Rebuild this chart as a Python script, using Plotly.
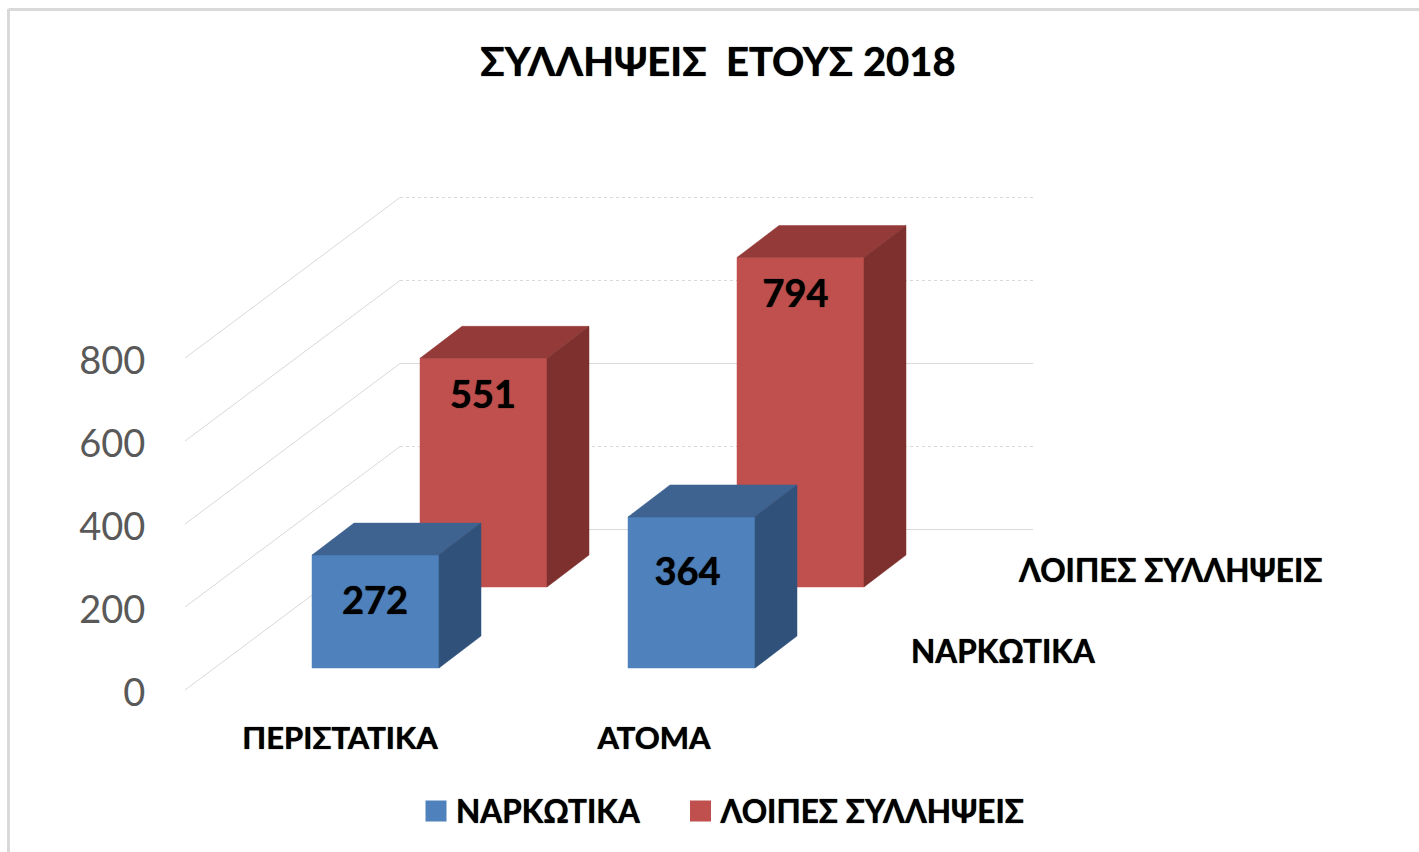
import plotly.graph_objects as go

# --- data ---
title = "ΣΥΛΛΗΨΕΙΣ  ΕΤΟΥΣ 2018"
categories = ["ΠΕΡΙΣΤΑΤΙΚΑ", "ΑΤΟΜΑ"]
narkotika = [272, 364]
loipes = [551, 794]
series_names = ["ΝΑΡΚΩΤΙΚΑ", "ΛΟΙΠΕΣ ΣΥΛΛΗΨΕΙΣ"]
y_ticks = [0, 200, 400, 600, 800]

# --- oblique projection (x axis in px-like units, y axis in value units) ---
W, H = 1419, 852
UNIT = 0.415           # px per value unit
Y0 = 690               # px of value 0
BOTTOM = 715
L = 159                # left edge of the plot area
cat_x = [340, 654]
BAR_W = 127
FONT = "Lato, 'Open Sans', sans-serif"
SHADOW = "0 0 1px #000000"
GRID = "#D9D9D9"

def v(px_shift):
    return px_shift / UNIT

def cuboid(x0, base, value, dx, dy):
    x1 = x0 + BAR_W
    top = base + value
    d = v(dy)
    front = ([x0, x1, x1, x0, x0], [base, base, top, top, base])
    side = ([x1, x1 + dx, x1 + dx, x1, x1], [base, base + d, top + d, top, base])
    cap = ([x0, x1, x1 + dx, x0 + dx, x0], [top, top, top + d, top + d, top])
    return front, cap, side

fig = go.Figure()

def poly(xy, color):
    fig.add_trace(go.Scatter(x=xy[0], y=xy[1], mode="lines", fill="toself", fillcolor=color,
                             line=dict(color=color, width=0.5), showlegend=False, hoverinfo="skip"))

# walls
WALL_DX, WALL_DY = 215, 160.5
LEFT, RIGHT = 185, 1033
dashes = ["solid", "dot", "solid", "dot", "dot"]
for t, d in zip(y_ticks, dashes):
    fig.add_trace(go.Scatter(x=[LEFT, LEFT + WALL_DX], y=[t, t + v(WALL_DY)], mode="lines",
                             line=dict(color=GRID, width=1), showlegend=False, hoverinfo="skip"))
    fig.add_trace(go.Scatter(x=[LEFT + WALL_DX, RIGHT], y=[t + v(WALL_DY)] * 2, mode="lines",
                             line=dict(color=GRID, width=1.2, dash=d), showlegend=False, hoverinfo="skip"))

BLUE = ("#4F81BD", "#3E6390", "#30527A")
RED = ("#C0504D", "#943A38", "#7D302E")
BLUE_X = [312, 628]
RED_X = [420, 737]
BLUE_BASE, RED_BASE = v(22), v(103)
DEPTH_DX, DEPTH_DY = 42, 32

for i in range(len(categories)):
    for xs, base, vals, cols in ((RED_X, RED_BASE, loipes, RED), (BLUE_X, BLUE_BASE, narkotika, BLUE)):
        for part, col in zip(cuboid(xs[i], base, vals[i], DEPTH_DX, DEPTH_DY), cols):
            poly(part, col)

# value labels
label_drop = [(40, 40), (49, 59)]  # px below front-top edge for red, blue
label_shift = [(-0.5, -5), (-0.5, -4)]
lx, ly, lt = [], [], []
for s, (xs, base, vals) in enumerate(((RED_X, RED_BASE, loipes), (BLUE_X, BLUE_BASE, narkotika))):
    for i in range(2):
        lx.append(xs[i] + BAR_W / 2 + label_shift[s][i])
        ly.append(base + vals[i] - v(label_drop[s][i]))
        lt.append(str(vals[i]))
fig.add_trace(go.Scatter(x=lx, y=ly, text=lt, mode="text", textposition="middle center",
                         textfont=dict(family=FONT, size=38, color="#000000", weight="bold", shadow=SHADOW),
                         showlegend=False, hoverinfo="skip"))

# legend-only entries, one legend per series so the gap between them can be set
for name, col, lg in zip(series_names, (BLUE[0], RED[0]), ("legend", "legend2")):
    fig.add_trace(go.Scatter(x=[None], y=[None], mode="markers", name=name, legend=lg,
                             marker=dict(symbol="square", size=16, color=col, line=dict(color=col, width=5))))

# depth axis labels
for text, px, py in ((series_names[1], 1170, 570), (series_names[0], 1003, 651)):
    fig.add_annotation(x=px, y=v(Y0 - py), text=text, showarrow=False,
                       font=dict(family=FONT, size=31.5, color="#000000", weight="bold", shadow=SHADOW))

# frame of the chart
fig.add_shape(type="line", xref="paper", yref="paper",
              x0=(8.5 - L) / (W - L), x1=(8.5 - L) / (W - L),
              y0=(BOTTOM - H) / BOTTOM, y1=(BOTTOM - 9) / BOTTOM,
              line=dict(color="#D9D9D9", width=3))
fig.add_shape(type="line", xref="paper", yref="paper",
              x0=(8.5 - L) / (W - L), x1=1,
              y0=(BOTTOM - 9.5) / BOTTOM, y1=(BOTTOM - 9.5) / BOTTOM,
              line=dict(color="#D9D9D9", width=3))

LEGEND_FONT = dict(family=FONT, size=31.5, color="#000000", weight="bold", shadow=SHADOW)
legend_y = (BOTTOM - 811) / BOTTOM
fig.update_layout(
    width=W, height=H, autosize=False,
    margin=dict(l=L, r=0, t=0, b=H - BOTTOM),
    paper_bgcolor="#FFFFFF", plot_bgcolor="#FFFFFF",
    title=dict(text=title, x=718 / W, xanchor="center", xref="container",
               y=1 - 62 / H, yanchor="middle", yref="container",
               font=dict(family=FONT, size=40, color="#000000", weight="bold", shadow=SHADOW)),
    xaxis=dict(range=[L, W], tickmode="array", tickvals=cat_x, ticktext=categories,
               showgrid=False, zeroline=False, showline=False, ticks="", ticklabelstandoff=2,
               tickfont=dict(family=FONT, size=31, color="#000000", weight="bold", shadow=SHADOW)),
    yaxis=dict(range=[v(Y0 - BOTTOM), v(Y0)], tickmode="array", tickvals=y_ticks,
               showgrid=False, zeroline=False, showline=False, ticklabelshift=3,
               ticks="outside", ticklen=5, tickcolor="rgba(0,0,0,0)",
               tickfont=dict(family=FONT, size=38, color="#595959")),
    legend=dict(orientation="h", x=(416 - L) / (W - L), xanchor="left",
                y=legend_y, yanchor="middle", itemsizing="trace", font=LEGEND_FONT),
    legend2=dict(orientation="h", x=(680.5 - L) / (W - L), xanchor="left",
                 y=legend_y, yanchor="middle", itemsizing="trace", font=LEGEND_FONT),
)

fig.write_html("out.html", config=dict(displayModeBar=False),
               post_script="document.body.style.margin='0';")
